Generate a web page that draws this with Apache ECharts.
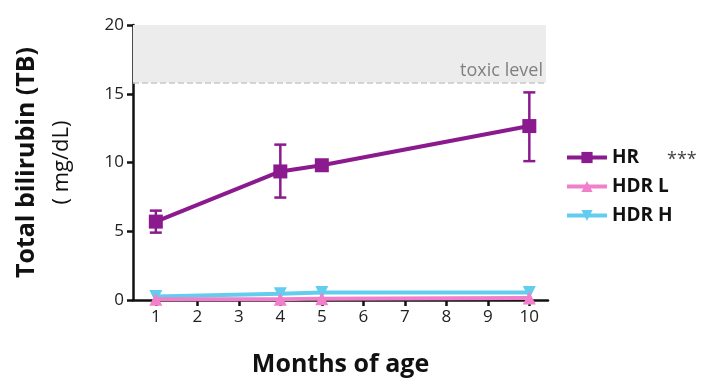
<!DOCTYPE html>
<html>
<head>
<meta charset="utf-8">
<script src="https://cdn.jsdelivr.net/npm/echarts@6/dist/echarts.min.js"></script>
<style>
html, body { margin: 0; padding: 0; background: #fff; }
#chart { width: 701px; height: 380px; }
</style>
</head>
<body>
<div id="chart"></div>
<script>
var months = [1, 4, 5, 10];
var hrMean = [5.7, 9.35, 9.8, 12.65];
var hrLow = [4.9, 7.45, 9.8, 10.1];
var hrHigh = [6.5, 11.3, 9.8, 15.1];
var hdrL = [0.05, 0.05, 0.1, 0.15];
var hdrH = [0.25, 0.45, 0.55, 0.55];
var xTicks = [1, 2, 3, 4, 5, 6, 7, 8, 9, 10];
var toxicLevel = 15.8;

var chart = echarts.init(document.getElementById('chart'));
var font = '"Open Sans", "Noto Sans", sans-serif';

function pairs(ys) {
	return months.map(function(m, i) { return [m, ys[i]]; });
}

var errData = months.map(function(m, i) { return [m, hrLow[i], hrHigh[i]]; });

var option = {
	animation: false,
	grid: { left: 133, right: 153, top: 25, bottom: 80, outerBoundsMode: 'none', containLabel: false },
	legend: {
		orient: 'vertical',
		left: 560,
		top: 143,
		itemGap: 10,
		itemWidth: 40,
		itemHeight: 14,
		lineStyle: { width: 4 },
		data: ['HR', 'HDR L', 'HDR H'],
		textStyle: { fontFamily: font, fontWeight: 'bold', fontSize: 19, color: '#111' }
	},
	xAxis: {
		type: 'value',
		min: 0.45,
		max: 10.45,
		name: 'Months of age',
		nameLocation: 'middle',
		nameGap: 52,
		nameTextStyle: { fontFamily: font, fontWeight: 'bold', fontSize: 25, color: '#111' },
		splitLine: { show: false },
		axisLine: { lineStyle: { color: '#111', width: 2.5 } },
		axisTick: { customValues: xTicks, length: 6, lineStyle: { color: '#111', width: 2.5 } },
		axisLabel: { customValues: xTicks, fontFamily: font, fontSize: 17, color: '#222', margin: 9 }
	},
	yAxis: {
		type: 'value',
		min: 0,
		max: 20,
		interval: 5,
		name: '{b|Total bilirubin (TB)}\n{n|( mg/dL)}',
		nameLocation: 'middle',
		nameGap: 55,
		nameRotate: 90,
		nameTextStyle: {
			rich: {
				b: { fontFamily: font, fontWeight: 'bold', fontSize: 25, color: '#111', lineHeight: 38 },
				n: { fontFamily: font, fontSize: 22, color: '#111', lineHeight: 32 }
			}
		},
		splitLine: { show: false },
		axisLine: { show: true, lineStyle: { color: '#111', width: 2.5 } },
		axisTick: { show: true, length: 6, lineStyle: { color: '#111', width: 2.5 } },
		axisLabel: { fontFamily: font, fontSize: 17, color: '#222', margin: 9 }
	},
	graphic: [{
		type: 'text',
		left: 667,
		top: 151,
		style: { text: '***', font: '18px ' + font, fill: '#444' }
	}],
	series: [{
		name: 'HR',
		type: 'line',
		data: pairs(hrMean),
		symbol: 'rect',
		symbolSize: 14,
		z: 5,
		lineStyle: { color: '#8b1a8e', width: 4 },
		itemStyle: { color: '#8b1a8e' },
		markArea: {
			silent: true,
			itemStyle: { color: '#ececec' },
			label: {
				show: true,
				position: 'insideBottomRight',
				distance: 3,
				color: '#808080',
				fontFamily: font,
				fontSize: 18
			},
			data: [[{ name: 'toxic level', yAxis: toxicLevel, xAxis: 0.45 }, { yAxis: 20, xAxis: 10.4 }]]
		},
		markLine: {
			silent: true,
			symbol: 'none',
			label: { show: false },
			lineStyle: { color: '#c8c8c8', type: 'dashed', width: 1.5 },
			data: [[{ coord: [0.45, toxicLevel] }, { coord: [10.4, toxicLevel] }]]
		}
	}, {
		name: 'HDR L',
		type: 'line',
		data: pairs(hdrL),
		symbol: 'triangle',
		symbolSize: 13,
		z: 4,
		lineStyle: { color: '#f27fcb', width: 4 },
		itemStyle: { color: '#f27fcb' }
	}, {
		name: 'HDR H',
		type: 'line',
		data: pairs(hdrH),
		symbol: 'triangle',
		symbolRotate: 180,
		symbolSize: 13,
		z: 3,
		lineStyle: { color: '#62cdee', width: 4 },
		itemStyle: { color: '#62cdee' }
	}, {
		name: 'err',
		type: 'custom',
		z: 6,
		data: errData,
		renderItem: function(params, api) {
			var x = api.value(0);
			var lo = api.coord([x, api.value(1)]);
			var hi = api.coord([x, api.value(2)]);
			var w = 6;
			var st = { stroke: '#8b1a8e', lineWidth: 2.5 };
			return {
				type: 'group',
				children: [
					{ type: 'line', shape: { x1: lo[0], y1: lo[1], x2: hi[0], y2: hi[1] }, style: st },
					{ type: 'line', shape: { x1: lo[0] - w, y1: lo[1], x2: lo[0] + w, y2: lo[1] }, style: st },
					{ type: 'line', shape: { x1: hi[0] - w, y1: hi[1], x2: hi[0] + w, y2: hi[1] }, style: st }
				]
			};
		}
	}]
};

chart.setOption(option);
</script>
</body>
</html>
